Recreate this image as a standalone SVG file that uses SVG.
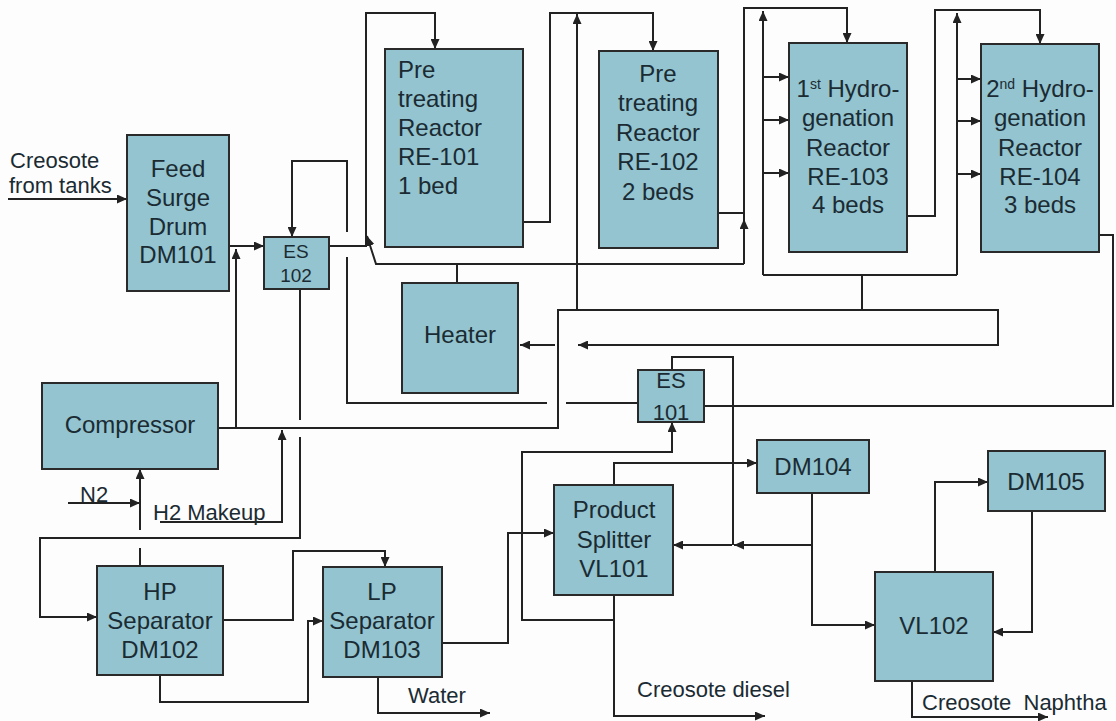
<svg xmlns="http://www.w3.org/2000/svg" width="1116" height="721" viewBox="0 0 1116 721">
<style>
.box{fill:#93c4cf;stroke:#2a2a2a;stroke-width:2}
.t{font-family:"Liberation Sans",Arial,sans-serif;font-size:24px;fill:#1b2b33;text-anchor:middle}
.tl{font-family:"Liberation Sans",Arial,sans-serif;font-size:22px;fill:#1b2b33}
.ln{fill:none;stroke:#222;stroke-width:2}
.ar{fill:none;stroke:#222;stroke-width:2;marker-end:url(#ah)}
</style>
<defs>
<marker id="ah" markerUnits="userSpaceOnUse" markerWidth="10" markerHeight="9" refX="10" refY="4.5" orient="auto">
<path d="M0,0 L10,4.5 L0,9 z" fill="#222"/>
</marker>
</defs>
<rect width="1116" height="721" fill="#fdfdfd"/>

<g id="connectors">
<path class="ar" d="M8,199 H127"/>
<path class="ar" d="M229,246 H264"/>
<path class="ar" d="M236,428 V249"/>
<path class="ln" d="M218,428 H558 V310 H998 V345 H588"/>
<path class="ar" d="M600,345 H578"/>
<path class="ar" d="M555,345 H520"/>
<path class="ar" d="M577,310 V14"/>
<path class="ar" d="M523,222 H550 V13 H653 V51"/>
<path class="ar" d="M329,246 H366 V13 H435 V49"/>
<path class="ln" d="M457,283 V264"/>
<path class="ar" d="M744,264 H376 L367,236"/>
<path class="ar" d="M744,264 V219"/>
<path class="ar" d="M744,219 V8 H847 V43"/>
<path class="ln" d="M718,213 H744"/>
<path class="ar" d="M763,275 V11"/>
<path class="ar" d="M763,77 H789"/>
<path class="ar" d="M763,120 H789"/>
<path class="ar" d="M763,173 H789"/>
<path class="ar" d="M907,216 H935 V10 H1040 V44"/>
<path class="ar" d="M957,275 V13"/>
<path class="ar" d="M957,79 H981"/>
<path class="ar" d="M957,121 H981"/>
<path class="ar" d="M957,174 H981"/>
<path class="ln" d="M763,275 H957 M862,275 V310"/>
<path class="ln" d="M1099,235 H1113 V406 H704"/>
<path class="ln" d="M638,403 H566 M547,403 H347 V257"/>
<path class="ar" d="M347,232 V161 H292 V237"/>
<path class="ln" d="M672,370 V357 H733 V545"/>
<path class="ar" d="M812,493 V625 H875"/>
<path class="ar" d="M812,545 H734"/>
<path class="ar" d="M732,545 H673"/>
<path class="ar" d="M614,595 V716 H765"/>
<path class="ar" d="M614,620 H522 V452 H672 V422"/>
<path class="ar" d="M442,643 H508 V533 H554"/>
<path class="ar" d="M614,485 V463 H757"/>
<path class="ar" d="M935,572 V482 H988"/>
<path class="ar" d="M1032,511 V632 H993"/>
<path class="ar" d="M912,681 V717 H1048"/>
<path class="ln" d="M300,289 V420"/>
<path class="ar" d="M300,437 V538 H40 V617 H97"/>
<path class="ln" d="M140,566 V548"/>
<path class="ar" d="M140,530 V469"/>
<path class="ar" d="M68,503 H140"/>
<path class="ar" d="M160,522 H282 V430"/>
<path class="ar" d="M223,620 H293 V551 H385 V567"/>
<path class="ar" d="M160,675 V702 H308 V621 H323"/>
<path class="ar" d="M378,677 V713 H490"/>
</g>

<g id="DM101"><rect class="box" x="127" y="135" width="102" height="156"/>
<text class="t" x="178" y="177">Feed</text><text class="t" x="178" y="206">Surge</text><text class="t" x="178" y="235">Drum</text><text class="t" x="178" y="263">DM101</text></g>
<g id="ES102"><rect class="box" x="264" y="237" width="65" height="52"/>
<text class="t" x="296" y="258" style="font-size:19px">ES</text><text class="t" x="296" y="282" style="font-size:19px">102</text></g>
<g id="RE101"><rect class="box" x="385" y="49" width="138" height="198"/>
<text class="t" x="398" y="78" style="text-anchor:start">Pre</text><text class="t" x="398" y="107" style="text-anchor:start">treating</text><text class="t" x="398" y="136" style="text-anchor:start">Reactor</text><text class="t" x="398" y="165" style="text-anchor:start">RE-101</text><text class="t" x="398" y="194" style="text-anchor:start">1 bed</text></g>
<g id="RE102"><rect class="box" x="599" y="51" width="119" height="197"/>
<text class="t" x="658" y="82">Pre</text><text class="t" x="658" y="111">treating</text><text class="t" x="658" y="141">Reactor</text><text class="t" x="658" y="170">RE-102</text><text class="t" x="658" y="200">2 beds</text></g>
<g id="RE103"><rect class="box" x="789" y="43" width="118" height="209"/>
<text class="t" x="848" y="97">1<tspan dy="-8" style="font-size:14px">st</tspan><tspan dy="8"> Hydro-</tspan></text><text class="t" x="848" y="126">genation</text><text class="t" x="848" y="156">Reactor</text><text class="t" x="848" y="185">RE-103</text><text class="t" x="848" y="213">4 beds</text></g>
<g id="RE104"><rect class="box" x="981" y="44" width="118" height="208"/>
<text class="t" x="1040" y="97">2<tspan dy="-8" style="font-size:14px">nd</tspan><tspan dy="8"> Hydro-</tspan></text><text class="t" x="1040" y="126">genation</text><text class="t" x="1040" y="156">Reactor</text><text class="t" x="1040" y="185">RE-104</text><text class="t" x="1040" y="213">3 beds</text></g>
<g id="Heater"><rect class="box" x="402" y="283" width="116" height="110"/>
<text class="t" x="460" y="343">Heater</text></g>
<g id="ES101"><rect class="box" x="638" y="370" width="66" height="52"/>
<text class="t" x="671" y="388" style="font-size:22px">ES</text><text class="t" x="671" y="420" style="font-size:22px">101</text></g>
<g id="Compressor"><rect class="box" x="42" y="383" width="176" height="86"/>
<text class="t" x="130" y="433">Compressor</text></g>
<g id="DM102"><rect class="box" x="97" y="566" width="126" height="109"/>
<text class="t" x="160" y="600">HP</text><text class="t" x="160" y="629">Separator</text><text class="t" x="160" y="658">DM102</text></g>
<g id="DM103"><rect class="box" x="323" y="567" width="119" height="110"/>
<text class="t" x="382" y="600">LP</text><text class="t" x="382" y="629">Separator</text><text class="t" x="382" y="658">DM103</text></g>
<g id="VL101"><rect class="box" x="554" y="485" width="119" height="110"/>
<text class="t" x="614" y="518">Product</text><text class="t" x="614" y="548">Splitter</text><text class="t" x="614" y="577">VL101</text></g>
<g id="DM104"><rect class="box" x="757" y="440" width="112" height="53"/>
<text class="t" x="813" y="475">DM104</text></g>
<g id="DM105"><rect class="box" x="988" y="451" width="117" height="60"/>
<text class="t" x="1046" y="490">DM105</text></g>
<g id="VL102"><rect class="box" x="875" y="572" width="118" height="109"/>
<text class="t" x="934" y="634">VL102</text></g>

<g id="labels">
<text class="tl" x="10" y="168">Creosote</text>
<text class="tl" x="9" y="193">from tanks</text>
<text class="tl" x="80" y="502">N2</text>
<text class="tl" x="153" y="520">H2 Makeup</text>
<text class="tl" x="408" y="703">Water</text>
<text class="tl" x="637" y="697">Creosote diesel</text>
<text class="tl" x="922" y="710" xml:space="preserve">Creosote  Naphtha</text>
</g>
</svg>
